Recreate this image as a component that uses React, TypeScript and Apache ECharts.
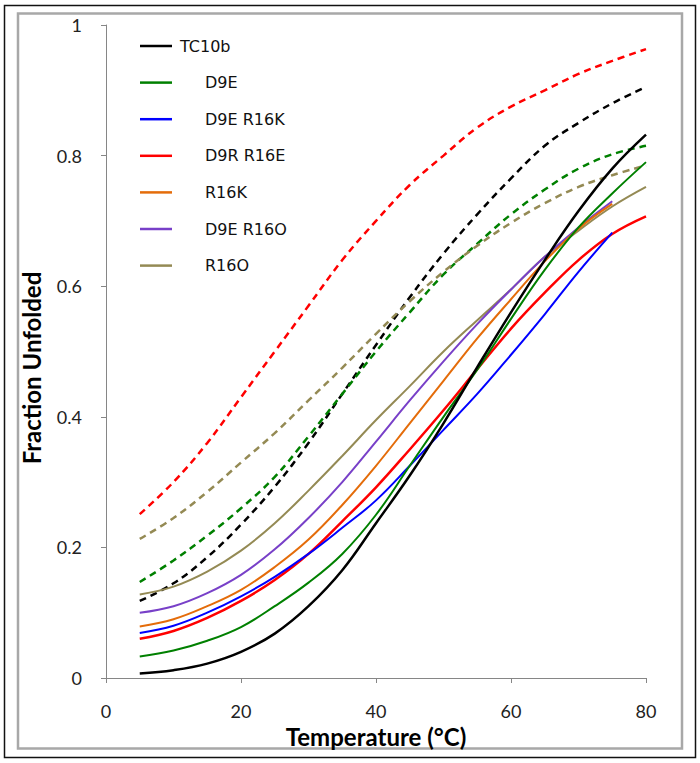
import React, { useEffect, useRef } from "react";
import * as echarts from "echarts";

const temps = [5, 10, 15, 20, 25, 30, 35, 40, 45, 50, 55, 60, 65, 70, 75, 80];

// solid curves (legend)
const tc10b = [0.007, 0.012, 0.022, 0.04, 0.068, 0.11, 0.165, 0.237, 0.31, 0.39, 0.476, 0.56, 0.64, 0.715, 0.78, 0.832];
const d9e = [0.033, 0.042, 0.057, 0.078, 0.11, 0.146, 0.19, 0.25, 0.325, 0.4, 0.472, 0.55, 0.625, 0.69, 0.742, 0.79];
const d9eR16k = [0.069, 0.08, 0.1, 0.125, 0.155, 0.19, 0.23, 0.272, 0.325, 0.38, 0.435, 0.495, 0.557, 0.622, 0.682];
const d9rR16e = [0.06, 0.072, 0.092, 0.118, 0.15, 0.19, 0.24, 0.292, 0.35, 0.41, 0.473, 0.535, 0.59, 0.64, 0.68, 0.707];
const r16k = [0.079, 0.09, 0.11, 0.135, 0.17, 0.212, 0.265, 0.325, 0.39, 0.455, 0.52, 0.58, 0.638, 0.688, 0.726];
const d9eR16o = [0.1, 0.11, 0.13, 0.158, 0.197, 0.245, 0.3, 0.362, 0.425, 0.485, 0.542, 0.595, 0.645, 0.69, 0.73];
const r16o = [0.128, 0.14, 0.163, 0.195, 0.237, 0.287, 0.34, 0.395, 0.447, 0.5, 0.548, 0.595, 0.645, 0.685, 0.722, 0.752];

// dashed curves
const tc10bDash = [0.118, 0.145, 0.185, 0.235, 0.293, 0.36, 0.435, 0.51, 0.583, 0.65, 0.71, 0.765, 0.815, 0.85, 0.88, 0.905];
const d9eDash = [0.147, 0.18, 0.218, 0.26, 0.308, 0.37, 0.435, 0.5, 0.56, 0.618, 0.665, 0.71, 0.748, 0.78, 0.802, 0.815];
const d9rR16eDash = [0.251, 0.3, 0.36, 0.43, 0.5, 0.57, 0.64, 0.7, 0.755, 0.8, 0.843, 0.875, 0.9, 0.925, 0.945, 0.963];
const r16oDash = [0.213, 0.245, 0.285, 0.33, 0.375, 0.425, 0.475, 0.527, 0.577, 0.622, 0.662, 0.697, 0.727, 0.752, 0.77, 0.785];

const legendNames = ["TC10b", "D9E", "D9E R16K", "D9R R16E", "R16K", "D9E R16O", "R16O"];

const pair = (vals: number[]) => vals.map((v, i) => [temps[i], v]);

export default function App() {
  const ref = useRef<HTMLDivElement>(null);
  useEffect(() => {
    if (!ref.current) return;
    const chart = echarts.init(ref.current, undefined, { renderer: "svg" });
    const solid = (name: string, vals: number[], color: string, width = 2) => ({
      name,
      type: "line",
      data: pair(vals),
      smooth: 0.4,
      symbol: "none",
      lineStyle: { color, width },
      itemStyle: { color },
      z: 3,
    });
    const dashed = (name: string, vals: number[], color: string) => ({
      name,
      type: "line",
      data: pair(vals),
      smooth: 0.4,
      symbol: "none",
      lineStyle: { color, width: 2.5, type: [7, 5] },
      itemStyle: { color },
      z: 2,
    });
    chart.setOption({
      animation: false,
      backgroundColor: "#ffffff",
      grid: { left: 106, right: 54, top: 25, bottom: 85, containLabel: false },
      xAxis: {
        type: "value",
        min: 0,
        max: 80,
        interval: 20,
        name: "Temperature (°C)",
        nameLocation: "middle",
        nameGap: 39,
        nameTextStyle: { fontFamily: "Lato", fontWeight: "bold", fontSize: 24, color: "#000" },
        axisLine: { show: true, lineStyle: { color: "#868686", width: 1 } },
        axisTick: { show: true, inside: false, length: 5, lineStyle: { color: "#868686" } },
        axisLabel: { margin: 24, fontFamily: "Lato", fontSize: 18, color: "#222" },
        splitLine: { show: false },
      },
      yAxis: {
        type: "value",
        min: 0,
        max: 1,
        interval: 0.2,
        axisLine: { show: true, lineStyle: { color: "#868686", width: 1 } },
        axisTick: { show: true, inside: false, length: 5, lineStyle: { color: "#868686" } },
        axisLabel: { margin: 24, fontFamily: "Lato", fontSize: 18, color: "#222" },
        splitLine: { show: false },
      },
      legend: {
        data: legendNames,
        orient: "vertical",
        left: 135,
        top: 33,
        itemWidth: 32,
        itemHeight: 14,
        itemGap: 20.6,
        icon: "path://M0,0 H32 V2.5 H0 Z",
        selectedMode: false,
        textStyle: {
          fontFamily: "DejaVu Sans",
          fontSize: 16,
          color: "#111",
          padding: [0, 0, 0, 3],
          rich: { p: { width: 25 } },
        },
        formatter: (name: string) => (name === "TC10b" ? name : "{p|}" + name),
      },
      graphic: [
        {
          type: "rect",
          shape: { x: 4.5, y: 5.5, width: 691, height: 752 },
          style: { fill: "none", stroke: "#111", lineWidth: 1.5 },
          silent: true,
        },
        {
          type: "rect",
          shape: { x: 18, y: 13.5, width: 664, height: 735 },
          style: { fill: "none", stroke: "#a8a8a8", lineWidth: 2.5 },
          silent: true,
        },
        {
          type: "text",
          x: 31,
          y: 368,
          rotation: Math.PI / 2,
          style: {
            text: "Fraction Unfolded",
            fontFamily: "Lato",
            fontWeight: "bold",
            fontSize: 24,
            fill: "#000",
            textAlign: "center",
            textVerticalAlign: "middle",
          },
        },
      ],
      series: [
        dashed("TC10b dashed", tc10bDash, "#000000"),
        dashed("D9E dashed", d9eDash, "#008000"),
        dashed("D9R R16E dashed", d9rR16eDash, "#ff0000"),
        dashed("R16O dashed", r16oDash, "#948a54"),
        solid("R16O", r16o, "#948a54"),
        solid("D9E R16O", d9eR16o, "#7840c8"),
        solid("R16K", r16k, "#e46c0a"),
        solid("D9R R16E", d9rR16e, "#ff0000", 2.5),
        solid("D9E R16K", d9eR16k, "#0000ff"),
        solid("D9E", d9e, "#008000"),
        solid("TC10b", tc10b, "#000000", 2.5),
      ],
    });
    return () => chart.dispose();
  }, []);
  return (
    <div
      ref={ref}
      style={{ position: "fixed", left: 0, top: 0, width: 700, height: 763, background: "#fff" }}
    />
  );
}
